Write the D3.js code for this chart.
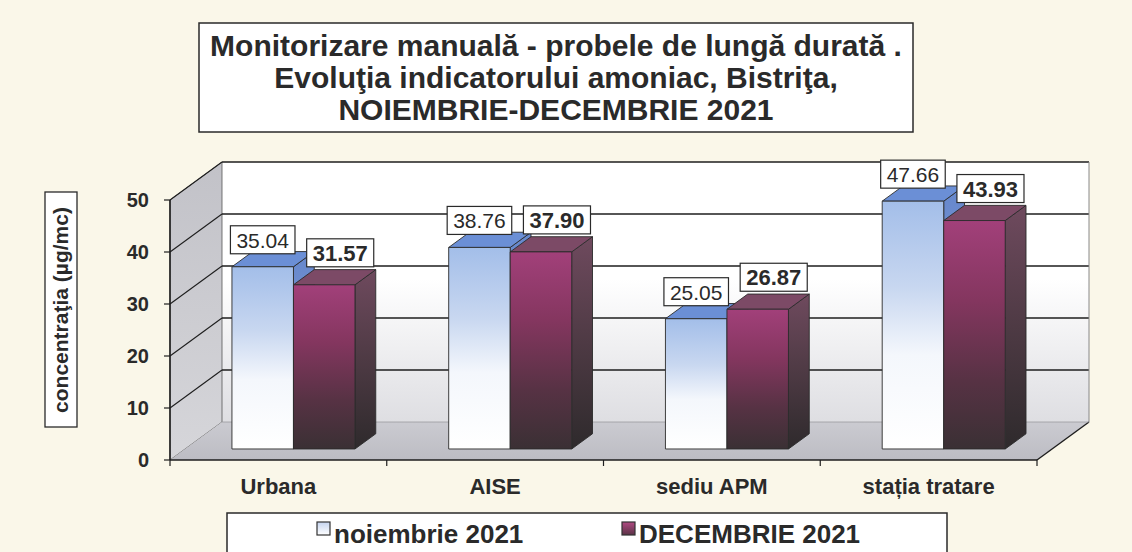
<!DOCTYPE html>
<html>
<head>
<meta charset="utf-8">
<script src="https://cdn.jsdelivr.net/npm/d3@7"></script>
<style>
  html, body { margin: 0; padding: 0; background: #faf7e9; }
  svg { display: block; font-family: "Liberation Sans", Arial, sans-serif; }
</style>
</head>
<body>
<svg id="chart" width="1132" height="552"></svg>
<script>
// ---- data ----
const categories = ["Urbana", "AISE", "sediu APM", "stația tratare"];
const seriesNames = ["noiembrie 2021", "DECEMBRIE 2021"];
const noiembrie = [35.04, 38.76, 25.05, 47.66];
const decembrie = [31.57, 37.90, 26.87, 43.93];
const yTicks = [0, 10, 20, 30, 40, 50];
const titleLines = [
  "Monitorizare manuală - probele de lungă durată .",
  "Evoluţia indicatorului amoniac, Bistriţa,",
  "NOIEMBRIE-DECEMBRIE 2021"
];
const yTitle = "concentraţia (µg/mc)";

// ---- layout ----
const svg = d3.select("#chart");
const ink = "#2a2a2a";
const front = { x0: 170, x1: 1037, y0: 460 };
const depth = { dx: 52, dy: -38 };
const barDepth = [0.29, 0.69];

const x0 = d3.scaleBand().domain(categories).range([front.x0, front.x1]).padding(0);
const x1 = d3.scaleBand().domain(seriesNames).range([0, x0.bandwidth()]).paddingInner(0).paddingOuter(0.762);
const y = d3.scaleLinear().domain([0, 50]).range([front.y0, 200]);

const P = (x, v, d) => [x + d * depth.dx, y(v) + d * depth.dy];
const poly = pts => "M" + pts.map(p => p.join(",")).join("L") + "Z";

const defs = svg.append("defs");
function lin(id, stops) {
  const g = defs.append("linearGradient").attr("id", id)
    .attr("x1", "0").attr("y1", "0").attr("x2", "0").attr("y2", "1");
  stops.forEach(s => g.append("stop").attr("offset", s[0]).attr("stop-color", s[1]));
}
lin("gBack", [["0", "#ffffff"], ["0.45", "#ffffff"], ["1", "#dedee2"]]);
lin("gSide", [["0", "#c2c2c8"], ["1", "#d6d6da"]]);
lin("gFloor", [["0", "#cbcbd1"], ["1", "#bcbcc3"]]);
lin("gNovFront", [["0", "#a3bee9"], ["0.35", "#c8d7f0"], ["0.62", "#f4f7fc"], ["1", "#ffffff"]]);
lin("gDecFront", [["0", "#a2407a"], ["0.35", "#84365f"], ["0.7", "#573244"], ["1", "#3a3034"]]);
lin("gDecSide", [["0", "#6f4a5e"], ["0.5", "#4e3a44"], ["1", "#2e2a2c"]]);
lin("gNovSide", [["0", "#6687cc"], ["1", "#8fa7d8"]]);
lin("gNovLeg", [["0", "#c5d4ef"], ["1", "#ffffff"]]);
lin("gDecLeg", [["0", "#b04a82"], ["1", "#5a3346"]]);

// ---- title box ----
svg.append("rect").attr("x", 199).attr("y", 23).attr("width", 714).attr("height", 109)
  .attr("fill", "#ffffff").attr("stroke", ink).attr("stroke-width", 1.5);
svg.append("g").selectAll("text").data(titleLines).join("text")
  .attr("x", 556).attr("y", (d, i) => 56 + i * 32)
  .attr("text-anchor", "middle").attr("font-size", 30).attr("font-weight", "bold")
  .attr("fill", ink).text(d => d);

// ---- walls ----
const vMax = 50;
svg.append("path").attr("d", poly([P(front.x0, 0, 1), P(front.x1, 0, 1), P(front.x1, vMax, 1), P(front.x0, vMax, 1)]))
  .attr("fill", "url(#gBack)");
svg.append("path").attr("d", poly([P(front.x0, 0, 0), P(front.x0, 0, 1), P(front.x0, vMax, 1), P(front.x0, vMax, 0)]))
  .attr("fill", "url(#gSide)").attr("stroke", "#555").attr("stroke-width", 0.8);
svg.append("path").attr("d", poly([P(front.x0, 0, 0), P(front.x1, 0, 0), P(front.x1, 0, 1), P(front.x0, 0, 1)]))
  .attr("fill", "url(#gFloor)");

// gridlines: back wall + side wall diagonals
const grid = svg.append("g").attr("stroke", "#1e1e1e").attr("stroke-width", 1.4).attr("fill", "none");
yTicks.filter(v => v > 0).forEach(v => {
  grid.append("path").attr("d", "M" + P(front.x0, v, 1).join(",") + "L" + P(front.x1, v, 1).join(","));
  grid.append("path").attr("d", "M" + P(front.x0, v, 0).join(",") + "L" + P(front.x0, v, 1).join(","))
    .attr("stroke-width", 1.1);
});
svg.append("path").attr("d", "M" + P(front.x1, 0, 1).join(",") + "L" + P(front.x1, vMax, 1).join(","))
  .attr("stroke", "#888").attr("stroke-width", 1).attr("fill", "none");
svg.append("path").attr("d", "M" + P(front.x1, 0, 0).join(",") + "L" + P(front.x1, 0, 1).join(","))
  .attr("stroke", "#1e1e1e").attr("stroke-width", 1.4).attr("fill", "none");
svg.append("path").attr("d", "M" + P(front.x0, 0, 1).join(",") + "L" + P(front.x1, 0, 1).join(","))
  .attr("stroke", "#9a9aa0").attr("stroke-width", 0.8).attr("fill", "none");

// ---- bars ----
const seriesData = [noiembrie, decembrie];
const styles = [
  { front: "url(#gNovFront)", top: "#6b8fd6", side: "url(#gNovSide)" },
  { front: "url(#gDecFront)", top: "#7c4a66", side: "url(#gDecSide)" }
];
const barsG = svg.append("g");
categories.forEach((c, ci) => {
  seriesNames.forEach((s, si) => {
    const v = seriesData[si][ci];
    const a = x0(c) + x1(s), b = a + x1.bandwidth();
    const [d0, d1] = barDepth;
    const g = barsG.append("g").attr("stroke", "#2b2b2b").attr("stroke-width", 0.9).attr("stroke-linejoin", "round");
    g.append("path").attr("d", poly([P(b, 0, d0), P(b, 0, d1), P(b, v, d1), P(b, v, d0)])).attr("fill", styles[si].side);
    g.append("path").attr("d", poly([P(a, v, d0), P(b, v, d0), P(b, v, d1), P(a, v, d1)])).attr("fill", styles[si].top);
    g.append("path").attr("d", poly([P(a, 0, d0), P(b, 0, d0), P(b, v, d0), P(a, v, d0)])).attr("fill", styles[si].front);
  });
});

// ---- axes ----
const axisG = svg.append("g").attr("stroke", "#1e1e1e").attr("stroke-width", 1.6).attr("fill", "none");
axisG.append("path").attr("d", `M${front.x0},${y(0)}L${front.x0},${y(50)}`);
axisG.append("path").attr("d", `M${front.x0},${y(0)}L${front.x1},${y(0)}`);
yTicks.forEach(v => axisG.append("path").attr("d", `M${front.x0 - 6},${y(v)}L${front.x0},${y(v)}`).attr("stroke-width", 1.2));
d3.range(categories.length + 1).forEach(i => {
  const xx = front.x0 + i * x0.step();
  axisG.append("path").attr("d", `M${xx},${y(0)}L${xx},${y(0) + 6}`).attr("stroke-width", 1.2);
});

svg.append("g").selectAll("text").data(yTicks).join("text")
  .attr("x", 149).attr("y", d => y(d)).attr("dy", "0.36em")
  .attr("text-anchor", "end").attr("font-size", 20).attr("font-weight", "bold").attr("fill", ink)
  .text(d => d);

svg.append("g").selectAll("text").data(categories).join("text")
  .attr("x", d => x0(d) + x0.bandwidth() / 2).attr("y", 494)
  .attr("text-anchor", "middle").attr("font-size", 22).attr("font-weight", "bold").attr("fill", ink)
  .text(d => d);

// y axis title
svg.append("rect").attr("x", 45).attr("y", 192).attr("width", 32).attr("height", 235)
  .attr("fill", "#ffffff").attr("stroke", ink).attr("stroke-width", 1.3);
svg.append("text").attr("transform", "translate(68,310) rotate(-90)")
  .attr("text-anchor", "middle").attr("font-size", 21).attr("font-weight", "bold").attr("fill", ink)
  .text(yTitle);

// ---- value labels ----
const fmt = d3.format(".2f");
const labG = svg.append("g");
categories.forEach((c, ci) => {
  seriesNames.forEach((s, si) => {
    const v = seriesData[si][ci];
    const a = x0(c) + x1(s), b = a + x1.bandwidth();
    const fp = P((a + b) / 2, v, barDepth[0]);
    const cx = fp[0] + (si === 0 ? 0 : 16);
    const bottom = fp[1] - (si === 0 ? 13 : 18);
    const t = labG.append("text").attr("x", cx).attr("y", bottom - 6)
      .attr("text-anchor", "middle")
      .attr("font-size", si === 0 ? 21 : 22)
      .attr("font-weight", si === 0 ? "normal" : "bold")
      .attr("fill", ink).text(fmt(v));
    const w = t.node().getComputedTextLength() + 12;
    labG.insert("rect", () => t.node())
      .attr("x", cx - w / 2).attr("y", bottom - 28).attr("width", w).attr("height", 28)
      .attr("fill", "#ffffff").attr("stroke", ink).attr("stroke-width", 1.2);
  });
});

// ---- legend ----
svg.append("rect").attr("x", 227).attr("y", 513).attr("width", 720).attr("height", 60)
  .attr("fill", "#ffffff").attr("stroke", ink).attr("stroke-width", 1.5);
const legX = [317, 622];
const legFill = ["url(#gNovLeg)", "url(#gDecLeg)"];
seriesNames.forEach((s, i) => {
  svg.append("rect").attr("x", legX[i]).attr("y", 522).attr("width", 13).attr("height", 13)
    .attr("fill", legFill[i]).attr("stroke", "#333").attr("stroke-width", 1.2);
  svg.append("text").attr("x", legX[i] + 17).attr("y", 543)
    .attr("font-size", 26).attr("font-weight", "bold").attr("fill", ink).text(s);
});
</script>
</body>
</html>
